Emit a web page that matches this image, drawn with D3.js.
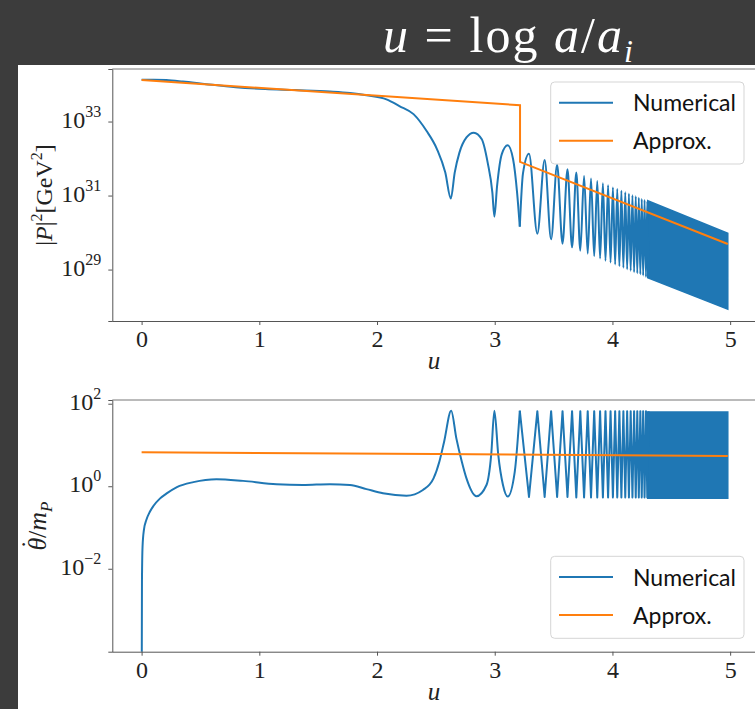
<!DOCTYPE html>
<html>
<head>
<meta charset="utf-8">
<script src="https://cdn.jsdelivr.net/npm/d3@7"></script>
<style>
  body { margin: 0; background: #3c3c3c; }
  svg { display: block; }
</style>
</head>
<body>
<script>
// x values (u = log a/a_i) shared by both panels
const xTicks = [0, 1, 2, 3, 4, 5];

// top panel: log10 |P|^2
const topNumU = [0, 0.1, 0.21, 0.35, 0.55, 0.8, 1.05, 1.3, 1.6, 1.77, 1.91, 2.08, 2.19, 2.31, 2.42, 2.51, 2.58, 2.627,
  2.66, 2.70, 2.76, 2.822, 2.89, 2.94, 2.98, 2.997, 3.02, 3.06, 3.11, 3.156, 3.19, 3.213, 3.24, 3.291,
  3.362, 3.424, 3.479, 3.530, 3.576, 3.618, 3.657, 3.693, 3.727, 3.759, 3.790, 3.818, 3.845, 3.871,
  3.895, 3.919, 3.941, 3.963, 3.984, 4.004, 4.023, 4.041, 4.059, 4.076, 4.093, 4.109, 4.125, 4.140,
  4.155, 4.170, 4.184, 4.198, 4.211, 4.224, 4.237, 4.249, 4.261, 4.273, 4.285, 4.296, 4.307];
const topNumLog = [34.13, 34.13, 34.12, 34.08, 34.01, 33.93, 33.88, 33.85, 33.81, 33.77, 33.71, 33.60, 33.42, 33.20, 32.75, 32.25, 31.62, 30.92,
  31.62, 32.16, 32.57, 32.70, 32.52, 31.89, 31.08, 30.43, 31.26, 32.12, 32.36, 31.98, 31.08, 30.16, 31.60, 32.13,
  29.97, 31.96, 29.82, 31.83, 29.70, 31.71, 29.60, 31.62, 29.51, 31.53, 29.43, 31.46, 29.36, 31.39,
  29.30, 31.33, 29.24, 31.28, 29.19, 31.22, 29.14, 31.18, 29.09, 31.13, 29.05, 31.09, 29.01, 31.05,
  28.97, 31.01, 28.93, 30.98, 28.90, 30.94, 28.87, 30.91, 28.84, 30.88, 28.80, 30.85, 28.78];
// dense oscillation at the end, drawn as the band it forms
const topBandU = [4.30, 4.98];
const topBandHi = [30.86, 29.98];
const topBandLo = [28.78, 27.93];
const topApproxU = [0, 3.215, 3.215, 4.98];
const topApproxLog = [34.12, 33.44, 31.91, 29.69];
const topYTicks = [29, 31, 33];

// bottom panel: log10 theta-dot / m_P
const botNumU = [0, 0.003, 0.008, 0.02, 0.04, 0.07, 0.1, 0.155, 0.21, 0.30, 0.44, 0.636, 0.862, 1.146, 1.37, 1.6, 1.77, 1.91,
  2.05, 2.25, 2.39, 2.48, 2.53, 2.57, 2.63, 2.674, 2.72, 2.76, 2.845, 2.93, 2.97, 2.997, 3.03, 3.07, 3.11, 3.17, 3.213,
  3.291, 3.362, 3.424, 3.479, 3.530, 3.576, 3.618, 3.657, 3.693, 3.727, 3.759, 3.790, 3.818, 3.845,
  3.871, 3.895, 3.919, 3.941, 3.963, 3.984, 4.004, 4.023, 4.041, 4.059, 4.076, 4.093, 4.109, 4.125,
  4.140, 4.155, 4.170, 4.184, 4.198, 4.211, 4.224, 4.237, 4.249, 4.261, 4.273, 4.285, 4.296, 4.307];
const botNumLog = [-6, -2.3, -1.46, -1.05, -0.82, -0.62, -0.48, -0.30, -0.18, -0.02, 0.10, 0.17, 0.13, 0.05, 0.03, 0.05, 0.03, -0.07,
  -0.17, -0.23, -0.09, 0.19, 0.60, 1.08, 1.83, 1.16, 0.60, 0.19, -0.24, 0.03, 0.76, 1.83, 0.76, 0.03, -0.25, 0.35, 1.83,
  -0.26, 1.82, -0.26, 1.82, -0.26, 1.82, -0.26, 1.82, -0.27, 1.82, -0.27, 1.82, -0.27, 1.82,
  -0.27, 1.82, -0.27, 1.82, -0.27, 1.82, -0.27, 1.82, -0.27, 1.82, -0.27, 1.82, -0.27, 1.82,
  -0.27, 1.82, -0.27, 1.82, -0.27, 1.82, -0.27, 1.82, -0.27, 1.82, -0.27, 1.82, -0.27, 1.82];
const botBandU = [4.30, 4.98];
const botBandHi = [1.80, 1.80];
const botBandLo = [-0.29, -0.29];
const botApproxU = [0, 2.5, 4.98];
const botApproxLog = [0.825, 0.78, 0.735];
const botYTicks = [-2, 0, 2];

const legendNames = ["Numerical", "Approx."];
const blue = "#1f77b4", orange = "#ff7f0e";

const svg = d3.select("body").append("svg").attr("width", 755).attr("height", 709);

svg.append("rect").attr("width", 755).attr("height", 709).attr("fill", "#3c3c3c");

//Titel
const title = svg.append("text").attr("x", 383).attr("y", 52)
  .attr("fill", "white").attr("font-family", "Liberation Serif").attr("font-size", 50)
  .attr("textLength", 250).attr("lengthAdjust", "spacing");
title.append("tspan").attr("font-style", "italic").text("u");
title.append("tspan").text(" = log ");
title.append("tspan").attr("font-style", "italic").text("a");
title.append("tspan").text("/");
title.append("tspan").attr("font-style", "italic").text("a");
title.append("tspan").attr("font-style", "italic").attr("font-size", 32).attr("dy", 10).text("i");

svg.append("rect").attr("x", 18).attr("y", 65).attr("width", 737).attr("height", 644).attr("fill", "white");

const x = d3.scaleLinear().domain([-0.249, 5.229]).range([112.3, 757.1]);

function panel(top, bottom, yDomain, numU, numLog, splitU, bandU, bandHi, bandLo, apU, apLog, yTicks, lateCurve, id) {
  const y = d3.scaleLog().domain(yDomain).range([bottom, top]);
  const p10 = v => Math.pow(10, v);

  svg.append("clipPath").attr("id", id)
    .append("rect").attr("x", 112.3).attr("y", top).attr("width", 645).attr("height", bottom - top);

  const g = svg.append("g").attr("clip-path", `url(#${id})`);

  g.append("path")
    .datum(bandU.map((u, i) => [u, bandHi[i], bandLo[i]]))
    .attr("fill", blue).attr("stroke", blue).attr("stroke-width", 1.5)
    .attr("d", d3.area().x(d => x(d[0])).y0(d => y(p10(d[2]))).y1(d => y(p10(d[1]))));

  const pts = numU.map((u, i) => [u, numLog[i]]);
  // smooth early part, oscillating part after splitU
  g.append("path")
    .datum(pts.filter(d => d[0] <= splitU))
    .attr("fill", "none").attr("stroke", blue).attr("stroke-width", 2).attr("stroke-linejoin", "round")
    .attr("d", d3.line().curve(d3.curveMonotoneX).x(d => x(d[0])).y(d => y(p10(d[1]))));
  g.append("path")
    .datum(pts.filter(d => d[0] >= splitU))
    .attr("fill", "none").attr("stroke", blue).attr("stroke-width", 2).attr("stroke-linejoin", "round")
    .attr("d", d3.line().curve(lateCurve).x(d => x(d[0])).y(d => y(p10(d[1]))));

  g.append("path")
    .datum(apU.map((u, i) => [u, apLog[i]]))
    .attr("fill", "none").attr("stroke", orange).attr("stroke-width", 2)
    .attr("d", d3.line().x(d => x(d[0])).y(d => y(p10(d[1]))));

  // akser
  const xa = svg.append("g").attr("transform", `translate(0,${bottom})`)
    .call(d3.axisBottom(x).tickValues(xTicks).tickFormat(d3.format("d")).tickSize(4).tickPadding(5).tickSizeOuter(0));
  xa.select(".domain").attr("stroke", "#555");
  xa.selectAll(".tick line").attr("stroke", "#555");
  xa.selectAll(".tick text").attr("font-family", "Liberation Serif").attr("font-size", 24).attr("fill", "#222");

  const ya = svg.append("g").attr("transform", "translate(112.3,0)")
    .call(d3.axisLeft(y).tickValues(yTicks.map(p10)).tickSize(4).tickPadding(7).tickFormat(""));
  ya.select(".domain").attr("stroke", "#555");
  ya.selectAll(".tick line").attr("stroke", "#555");
  ya.selectAll(".tick text").each(function(d, i) {
    const t = d3.select(this).attr("font-family", "Liberation Serif").attr("fill", "#222").attr("dy", "0.55em");
    t.append("tspan").attr("font-size", 24).text("10");
    t.append("tspan").attr("font-size", 16).attr("dy", -11).text(String(yTicks[i]).replace("-", "\u2212"));
  });

  svg.append("line").attr("x1", 112.3).attr("x2", 757).attr("y1", top).attr("y2", top).attr("stroke", "#777");

  svg.append("text").attr("x", 434).attr("y", bottom + 48).attr("text-anchor", "middle")
    .attr("font-family", "Liberation Serif").attr("font-style", "italic").attr("font-size", 25).attr("fill", "#222")
    .text("u");
  return y;
}

panel(69, 321, [Math.pow(10, 27.61), Math.pow(10, 34.42)], topNumU, topNumLog, 3.213, topBandU, topBandHi, topBandLo,
  topApproxU, topApproxLog, topYTicks, d3.curveMonotoneX, "clipTop");
panel(400, 651.7, [Math.pow(10, -4.01), Math.pow(10, 2.09)], botNumU, botNumLog, 3.213, botBandU, botBandHi, botBandLo,
  botApproxU, botApproxLog, botYTicks, d3.curveLinear, "clipBot");

// y-aksetitler
const yl1 = svg.append("text").attr("transform", "translate(52,195) rotate(-90)").attr("text-anchor", "middle")
  .attr("font-family", "Liberation Serif").attr("font-size", 24).attr("fill", "#222");
yl1.append("tspan").text("|");
yl1.append("tspan").attr("font-style", "italic").text("P");
yl1.append("tspan").text("|");
yl1.append("tspan").attr("font-size", 16).attr("dy", -10).text("2");
yl1.append("tspan").attr("dy", 10).text("[GeV");
yl1.append("tspan").attr("font-size", 16).attr("dy", -10).text("2");
yl1.append("tspan").attr("dy", 10).text("]");

// theta med prik (prikken sættes som egen tspan)
const yl2 = svg.append("text").attr("transform", "translate(46,526) rotate(-90)").attr("text-anchor", "middle")
  .attr("font-family", "Liberation Serif").attr("font-size", 26).attr("fill", "#222");
yl2.append("tspan").attr("font-style", "italic").text("\u03B8");
yl2.append("tspan").attr("dx", -11).attr("dy", -7).text("\u02D9");
yl2.append("tspan").attr("dx", 2).attr("dy", 7).text("/");
yl2.append("tspan").attr("font-style", "italic").text("m");
yl2.append("tspan").attr("font-style", "italic").attr("font-size", 17).attr("dy", 6).text("P");

// legender
function legend(top) {
  const lg = svg.append("g");
  lg.append("rect").attr("x", 550.7).attr("y", top).attr("width", 193.3).attr("height", 82).attr("rx", 4)
    .attr("fill", "white").attr("stroke", "#d5d5d5");
  [blue, orange].forEach((c, i) => {
    const cy = top + 20.7 + i * 38;
    lg.append("line").attr("x1", 559).attr("x2", 613).attr("y1", cy).attr("y2", cy)
      .attr("stroke", c).attr("stroke-width", 2);
    lg.append("text").attr("x", 633).attr("y", cy + 8.5).attr("font-family", "Lato").attr("font-size", 23)
      .attr("fill", "#111").text(legendNames[i]);
  });
}
legend(82);
legend(556.3);
</script>
</body>
</html>
